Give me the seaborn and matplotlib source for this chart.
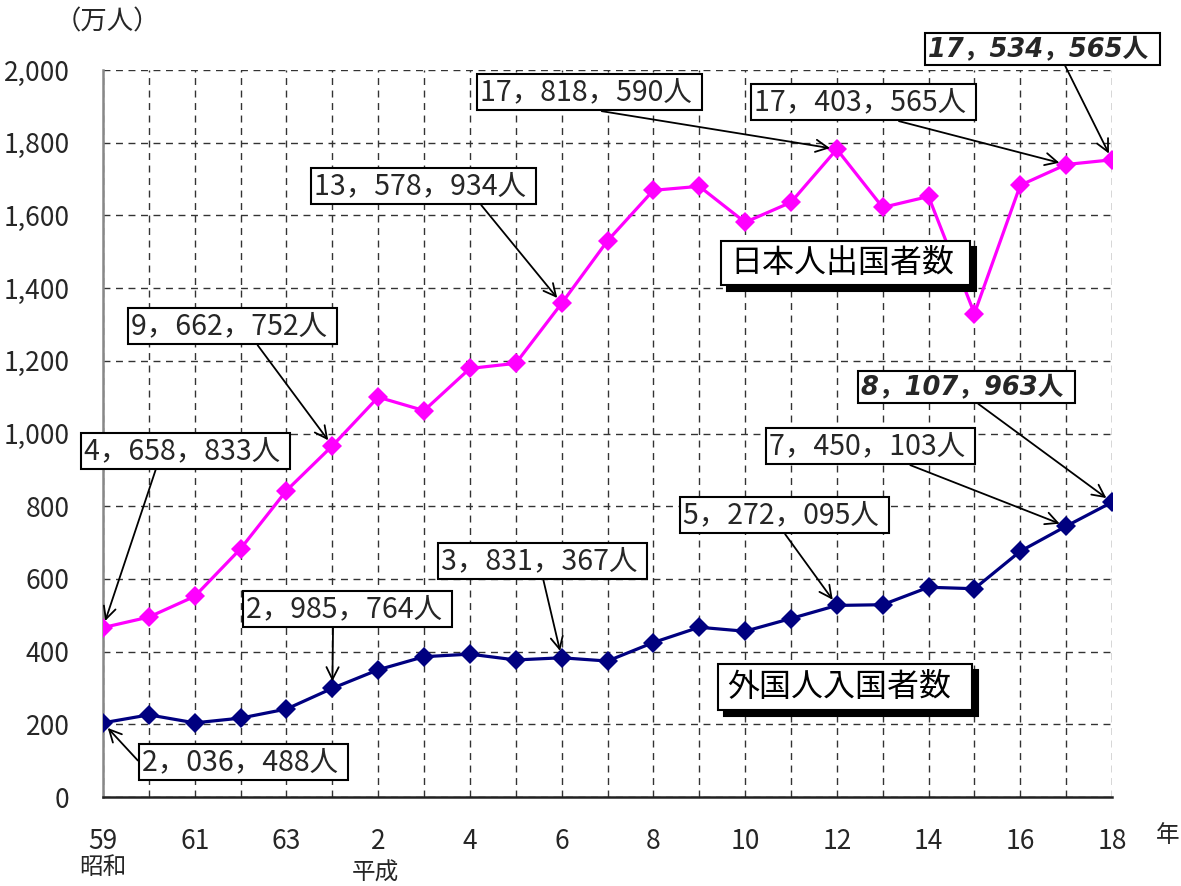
import matplotlib
matplotlib.use('Agg')
import matplotlib.pyplot as plt
from matplotlib.patches import Rectangle
import pandas as pd
import seaborn as sns

# ================== DATA ==================
years = ['59', '60', '61', '62', '63', '元'] + [str(i) for i in range(2, 19)]
japanese_out = [466, 495, 552, 683, 843, 966, 1100, 1063, 1179, 1193, 1358, 1530,
                1669, 1680, 1581, 1636, 1782, 1622, 1652, 1330, 1683, 1740, 1753]
foreign_in = [204, 226, 204, 217, 242, 299, 350, 386, 393, 377, 383, 374,
              425, 467, 456, 491, 527, 529, 577, 573, 676, 745, 811]
series_names = ['日本人出国者数', '外国人入国者数']
series_colors = ['#FF00FF', '#000080']

# callouts: series, year index, label, bold-italic
callout_series = [0, 0, 0, 0, 0, 0, 1, 1, 1, 1, 1, 1]
callout_index = [0, 5, 10, 16, 21, 22, 22, 21, 16, 10, 5, 0]
callout_text = ['4，658，833人', '9，662，752人', '13，578，934人', '17，818，590人',
                '17，403，565人', '17，534，565人', '8，107，963人', '7，450，103人',
                '5，272，095人', '3，831，367人', '2，985，764人', '2，036，488人']
callout_bold = [False, False, False, False, False, True, True, False, False, False, False, False]

# box placement (figure pixels from top-left) and arrow start on box
box_left = [80, 127, 310, 476, 750, 924, 857, 765, 679, 437, 242, 138]
box_top = [432, 307, 167, 73, 83, 30, 368, 427, 496, 542, 590, 743]
relpos = [(0.36, 0), (0.61, 0), (0.75, 0), (0.44, 0), (0.59, 0), (0.59, 0),
          (0.53, 0), (0.645, 0), (0.49, 0), (0.5, 0), (0.43, 0), (0.0, 0.4)]

W, H = 1181, 886

# ================== PLOT ==================
sns.set_style('white')
plt.rcParams['font.family'] = ['Noto Sans CJK JP', 'DejaVu Sans']

pos = list(range(len(years)))
df = pd.DataFrame({
    'pos': pos * 2,
    'value': japanese_out + foreign_in,
    'series': [series_names[0]] * len(pos) + [series_names[1]] * len(pos),
})

fig = plt.figure(figsize=(W / 100, H / 100), dpi=100)
ax = fig.add_axes([103 / W, 1 - 797 / H, (1112 - 103) / W, (797 - 70) / H])

sns.lineplot(data=df, x='pos', y='value', hue='series', style='series',
             palette=dict(zip(series_names, series_colors)),
             markers={series_names[0]: 'D', series_names[1]: 'D'}, dashes=False,
             markersize=10, markeredgewidth=0, linewidth=2.3, legend=False, ax=ax,
             zorder=3)

ax.set_xlim(0, len(years) - 1)
ax.set_ylim(0, 2000)
ax.set_xticks(pos)
ax.set_xticklabels([y if i % 2 == 0 else '' for i, y in enumerate(years)], fontsize=19)
ax.set_yticks(range(0, 2001, 200))
ax.set_yticklabels([f'{v:,}' for v in range(0, 2001, 200)], fontsize=19)
ax.tick_params(axis='x', direction='in', length=6, width=1, pad=22, color='#333333')
ax.tick_params(axis='y', length=0, pad=24)
ax.set_xlabel('')
ax.set_ylabel('')
ax.grid(True, linestyle=(0, (5, 4)), color='#333333', linewidth=1)
for s in ['top', 'right']:
    ax.spines[s].set_visible(False)
ax.spines['left'].set_color('#888888')
ax.spines['left'].set_linewidth(1.8)
ax.spines['bottom'].set_color('#222222')
ax.spines['bottom'].set_linewidth(1.8)

values = [japanese_out, foreign_in]
for k in range(len(callout_text)):
    i = callout_index[k]
    y = values[callout_series[k]][i]
    if callout_bold[k]:
        fkw = dict(family=['DejaVu Sans', 'Noto Sans CJK JP'], style='italic',
                   weight='bold', fontsize=18.5)
    else:
        fkw = dict(fontsize=20.5)
    ax.annotate(callout_text[k] + ' ', xy=(i, y),
                xytext=(box_left[k] + 4, H - box_top[k] - 19), textcoords='figure pixels',
                ha='left', va='center',
                bbox=dict(boxstyle='square,pad=0.12', fc='white', ec='black', lw=1.5),
                arrowprops=dict(arrowstyle='->', color='black', lw=1.3,
                                mutation_scale=22, relpos=relpos[k],
                                shrinkA=0, shrinkB=5),
                annotation_clip=False, zorder=5, **fkw)

# series labels with black shadow boxes
label_box = [(721, 241, 249, 44), (718, 664, 254, 46)]
for name, (bx, by, bw, bh) in zip(series_names, label_box):
    fig.patches.append(Rectangle(((bx + 6) / W, 1 - (by + bh + 6) / H), bw / W, bh / H,
                                 transform=fig.transFigure, fc='black', ec='black',
                                 lw=1.5, zorder=6))
    fig.patches.append(Rectangle((bx / W, 1 - (by + bh) / H), bw / W, bh / H,
                                 transform=fig.transFigure, fc='white', ec='black',
                                 lw=1.5, zorder=7))
    fig.text((bx + 9) / W, 1 - (by + bh / 2) / H, name, fontsize=23, ha='left',
             va='center', color='black', zorder=8)

fig.text(107 / W, 1 - 22 / H, '（万人）', fontsize=19, ha='center', va='center')
fig.text(1168 / W, 1 - 836 / H, '年', fontsize=17, ha='center', va='center')
fig.text(103 / W, 1 - 868 / H, '昭和', fontsize=17, ha='center', va='center')
fig.text(375 / W, 1 - 873 / H, '平成', fontsize=17, ha='center', va='center')

fig.savefig('out.png', dpi=100)
plt.close(fig)
